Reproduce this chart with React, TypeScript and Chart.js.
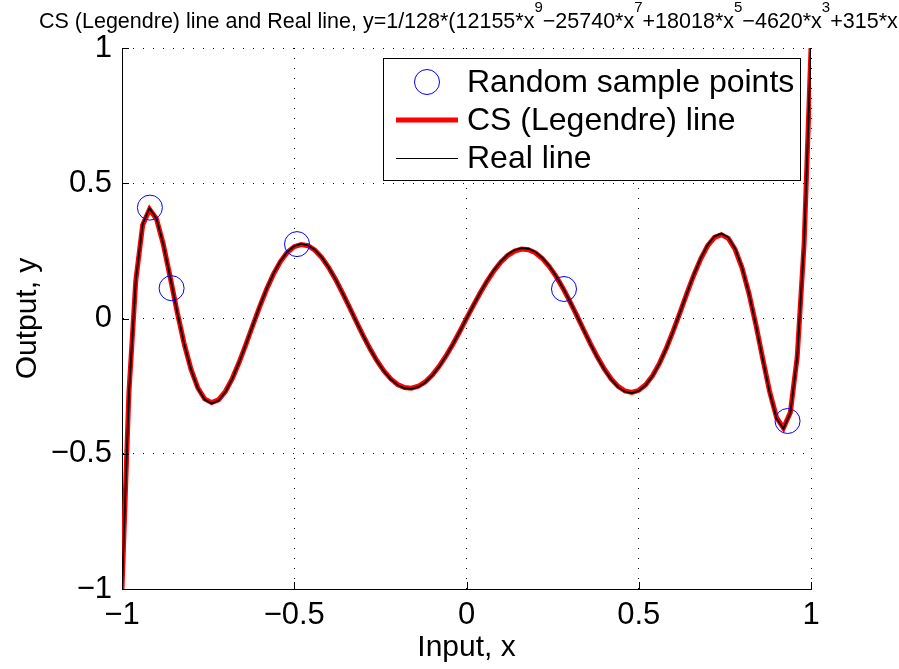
import { useEffect, useRef } from "react";
import { Chart, registerables } from "chart.js";

Chart.register(...registerables);

const FONT = '"Liberation Sans", Arial, Helvetica, sans-serif';

// Input grid (x)
const xValues = [
  -1, -0.98, -0.96, -0.94, -0.92, -0.9, -0.88, -0.86, -0.84, -0.82,
  -0.8, -0.78, -0.76, -0.74, -0.72, -0.7, -0.68, -0.66, -0.64, -0.62,
  -0.6, -0.58, -0.56, -0.54, -0.52, -0.5, -0.48, -0.46, -0.44, -0.42,
  -0.4, -0.38, -0.36, -0.34, -0.32, -0.3, -0.28, -0.26, -0.24, -0.22,
  -0.2, -0.18, -0.16, -0.14, -0.12, -0.1, -0.08, -0.06, -0.04, -0.02,
  0,
  0.02, 0.04, 0.06, 0.08, 0.1, 0.12, 0.14, 0.16, 0.18, 0.2,
  0.22, 0.24, 0.26, 0.28, 0.3, 0.32, 0.34, 0.36, 0.38, 0.4,
  0.42, 0.44, 0.46, 0.48, 0.5, 0.52, 0.54, 0.56, 0.58, 0.6,
  0.62, 0.64, 0.66, 0.68, 0.7, 0.72, 0.74, 0.76, 0.78, 0.8,
  0.82, 0.84, 0.86, 0.88, 0.9, 0.92, 0.94, 0.96, 0.98, 1,
];

// Real line (black)
const realValues = [
  -1, -0.2804, 0.1422, 0.3498, 0.4083, 0.3695, 0.2738, 0.1514, 0.0243, -0.092,
  -0.1879, -0.2578, -0.2997, -0.3143, -0.3039, -0.2721, -0.2233, -0.1625, -0.0943, -0.0234,
  0.0461, 0.1105, 0.1669, 0.2128, 0.2468, 0.2679, 0.2758, 0.2708, 0.2537, 0.2258,
  0.1888, 0.1444, 0.0948, 0.0422, -0.0114, -0.0637, -0.1129, -0.1571, -0.1948, -0.2247,
  -0.246, -0.2579, -0.2601, -0.2529, -0.2364, -0.2114, -0.1789, -0.14, -0.0961, -0.0489,
  0,
  0.0489, 0.0961, 0.14, 0.1789, 0.2114, 0.2364, 0.2529, 0.2601, 0.2579, 0.246,
  0.2247, 0.1948, 0.1571, 0.1129, 0.0637, 0.0114, -0.0422, -0.0948, -0.1444, -0.1888,
  -0.2258, -0.2537, -0.2708, -0.2758, -0.2679, -0.2468, -0.2128, -0.1669, -0.1105, -0.0461,
  0.0234, 0.0943, 0.1625, 0.2233, 0.2721, 0.3039, 0.3143, 0.2997, 0.2578, 0.1879,
  0.092, -0.0243, -0.1514, -0.2738, -0.3695, -0.4083, -0.3498, -0.1422, 0.2804, 1,
];

// CS (Legendre) line (red)
const csValues = [
  -1, -0.276, 0.14, 0.346, 0.404, 0.368, 0.274, 0.152, 0.025, -0.091,
  -0.1865, -0.256, -0.2975, -0.311, -0.301, -0.27, -0.222, -0.162, -0.0945, -0.024,
  0.045, 0.109, 0.165, 0.2105, 0.2445, 0.2655, 0.2735, 0.269, 0.2525, 0.225,
  0.1885, 0.1445, 0.095, 0.0425, -0.011, -0.063, -0.112, -0.156, -0.1935, -0.223,
  -0.244, -0.2555, -0.2575, -0.2505, -0.2345, -0.21, -0.178, -0.1395, -0.096, -0.049,
  0.0003,
  0.0485, 0.095, 0.1385, 0.177, 0.209, 0.2335, 0.2495, 0.2565, 0.2545, 0.243,
  0.222, 0.1925, 0.1555, 0.112, 0.0635, 0.0118, -0.0415, -0.0935, -0.1425, -0.1865,
  -0.2235, -0.251, -0.268, -0.273, -0.2655, -0.245, -0.2115, -0.166, -0.11, -0.046,
  0.023, 0.0935, 0.161, 0.221, 0.269, 0.3, 0.31, 0.296, 0.255, 0.1865,
  0.0925, -0.0225, -0.149, -0.2705, -0.366, -0.405, -0.348, -0.142, 0.276, 1,
];

// Random sample points
const sampleX = [-0.919, -0.856, -0.492, 0.283, 0.932];
const sampleY = [0.41, 0.112, 0.275, 0.109, -0.379];

const tickValues = [-1, -0.5, 0, 0.5, 1];
const tickLabels = ["\u22121", "\u22120.5", "0", "0.5", "1"];

const legendLabels = ["Random sample points", "CS (Legendre) line", "Real line"];

// [text, isSuperscript]
const titleParts: [string, boolean][] = [
  ["CS (Legendre) line and Real line, y=1/128*(12155*x", false],
  ["9", true],
  ["\u221225740*x", false],
  ["7", true],
  ["+18018*x", false],
  ["5", true],
  ["\u22124620*x", false],
  ["3", true],
  ["+315*x", false],
];

const labelFor = (v: number) => {
  const i = tickValues.findIndex((t) => Math.abs(t - v) < 1e-9);
  return i >= 0 ? tickLabels[i] : "";
};

const titlePlugin = {
  id: "matlabTitle",
  afterDraw(chart: any) {
    const ctx = chart.ctx;
    ctx.save();
    ctx.fillStyle = "#000";
    ctx.textAlign = "left";
    ctx.textBaseline = "alphabetic";
    let x = 39;
    for (const [text, sup] of titleParts) {
      ctx.font = sup ? `15px ${FONT}` : `21.5px ${FONT}`;
      ctx.fillText(text, x, sup ? 12 : 28);
      x += ctx.measureText(text).width;
    }
    ctx.restore();
  },
};

const ticksPlugin = {
  id: "inwardTicks",
  afterDraw(chart: any) {
    const { ctx, chartArea: a, scales } = chart;
    ctx.save();
    ctx.strokeStyle = "#000";
    ctx.lineWidth = 1;
    ctx.beginPath();
    for (const v of tickValues) {
      const px = Math.round(scales.x.getPixelForValue(v)) + 0.5;
      ctx.moveTo(px, a.bottom);
      ctx.lineTo(px, a.bottom - 7);
      const py = Math.round(scales.y.getPixelForValue(v)) + 0.5;
      ctx.moveTo(a.left, py);
      ctx.lineTo(a.left + 7, py);
    }
    ctx.stroke();
    ctx.restore();
  },
};

const legendPlugin = {
  id: "boxLegend",
  afterDatasetsDraw(chart: any) {
    const { ctx, chartArea: a } = chart;
    const bx = a.right - 428;
    const by = a.top + 10;
    const bw = 417;
    const bh = 122;
    ctx.save();
    ctx.fillStyle = "#fff";
    ctx.fillRect(bx, by, bw, bh);
    ctx.strokeStyle = "#000";
    ctx.lineWidth = 1;
    ctx.strokeRect(bx + 0.5, by + 0.5, bw, bh);
    const rows = [by + 24, by + 62, by + 100];
    ctx.beginPath();
    ctx.arc(bx + 44, rows[0], 12.5, 0, Math.PI * 2);
    ctx.strokeStyle = "#0000ff";
    ctx.lineWidth = 1;
    ctx.stroke();
    ctx.beginPath();
    ctx.moveTo(bx + 13, rows[1]);
    ctx.lineTo(bx + 75, rows[1]);
    ctx.strokeStyle = "#ff0000";
    ctx.lineWidth = 5;
    ctx.stroke();
    ctx.beginPath();
    ctx.moveTo(bx + 13, rows[2] + 0.5);
    ctx.lineTo(bx + 75, rows[2] + 0.5);
    ctx.strokeStyle = "#000";
    ctx.lineWidth = 1;
    ctx.stroke();
    ctx.fillStyle = "#000";
    ctx.font = `32px ${FONT}`;
    ctx.textAlign = "left";
    ctx.textBaseline = "middle";
    legendLabels.forEach((t, i) => ctx.fillText(t, bx + 84, rows[i] + 1));
    ctx.restore();
  },
};

export default function App() {
  const ref = useRef<HTMLCanvasElement | null>(null);

  useEffect(() => {
    if (!ref.current) return;
    const realData = xValues.map((x, i) => ({ x, y: realValues[i] }));
    const csData = xValues.map((x, i) => ({ x, y: csValues[i] }));
    const sampleData = sampleX.map((x, i) => ({ x, y: sampleY[i] }));

    const axisCommon = (titleText: string, isY: boolean) => ({
      type: "linear" as const,
      min: -1,
      max: 1,
      afterBuildTicks: (s: any) => {
        s.ticks = tickValues.map((v) => ({ value: v }));
      },
      afterFit: (s: any) => {
        if (isY) s.width = 122;
        else s.height = 80;
      },
      ticks: {
        callback: (v: any) => labelFor(Number(v)),
        font: { family: FONT, size: 31 },
        color: "#000",
        padding: isY ? 10 : 8,
        maxRotation: 0,
        autoSkip: false,
      },
      grid: { color: "#000", lineWidth: 1, drawTicks: false },
      border: { display: true, color: "#000", width: 1, dash: [1, 9] },
      title: {
        display: true,
        text: titleText,
        color: "#000",
        font: { family: FONT, size: 30 },
        padding: isY ? { top: 10, bottom: 0 } : { top: 0, bottom: 3 },
      },
    });

    const chart = new Chart(ref.current, {
      type: "scatter",
      data: {
        datasets: [
          {
            label: legendLabels[0],
            data: sampleData,
            showLine: false,
            pointStyle: "circle",
            pointRadius: 12.5,
            pointHoverRadius: 12.5,
            pointBackgroundColor: "rgba(0,0,0,0)",
            pointBorderColor: "#0000ff",
            pointBorderWidth: 1,
            order: 0,
          },
          {
            label: legendLabels[2],
            data: realData,
            showLine: true,
            borderColor: "#000000",
            borderWidth: 1.8,
            pointRadius: 0,
            tension: 0,
            order: 1,
          },
          {
            label: legendLabels[1],
            data: csData,
            showLine: true,
            borderColor: "#ff0000",
            borderWidth: 5,
            pointRadius: 0,
            tension: 0,
            order: 2,
          },
        ],
      },
      options: {
        animation: false,
        responsive: false,
        devicePixelRatio: 1,
        layout: { padding: { left: 0, top: 48, right: 88, bottom: 0 } },
        plugins: {
          legend: { display: false },
          title: { display: false },
          tooltip: { enabled: false },
        },
        scales: {
          x: axisCommon("Input, x", false) as any,
          y: axisCommon("Output, y", true) as any,
        },
      },
      plugins: [legendPlugin, ticksPlugin, titlePlugin],
    });
    return () => chart.destroy();
  }, []);

  return (
    <div style={{ position: "fixed", left: 0, top: 0, width: 899, height: 669, background: "#fff" }}>
      <canvas ref={ref} width={899} height={669} style={{ display: "block", width: 899, height: 669 }} />
    </div>
  );
}
